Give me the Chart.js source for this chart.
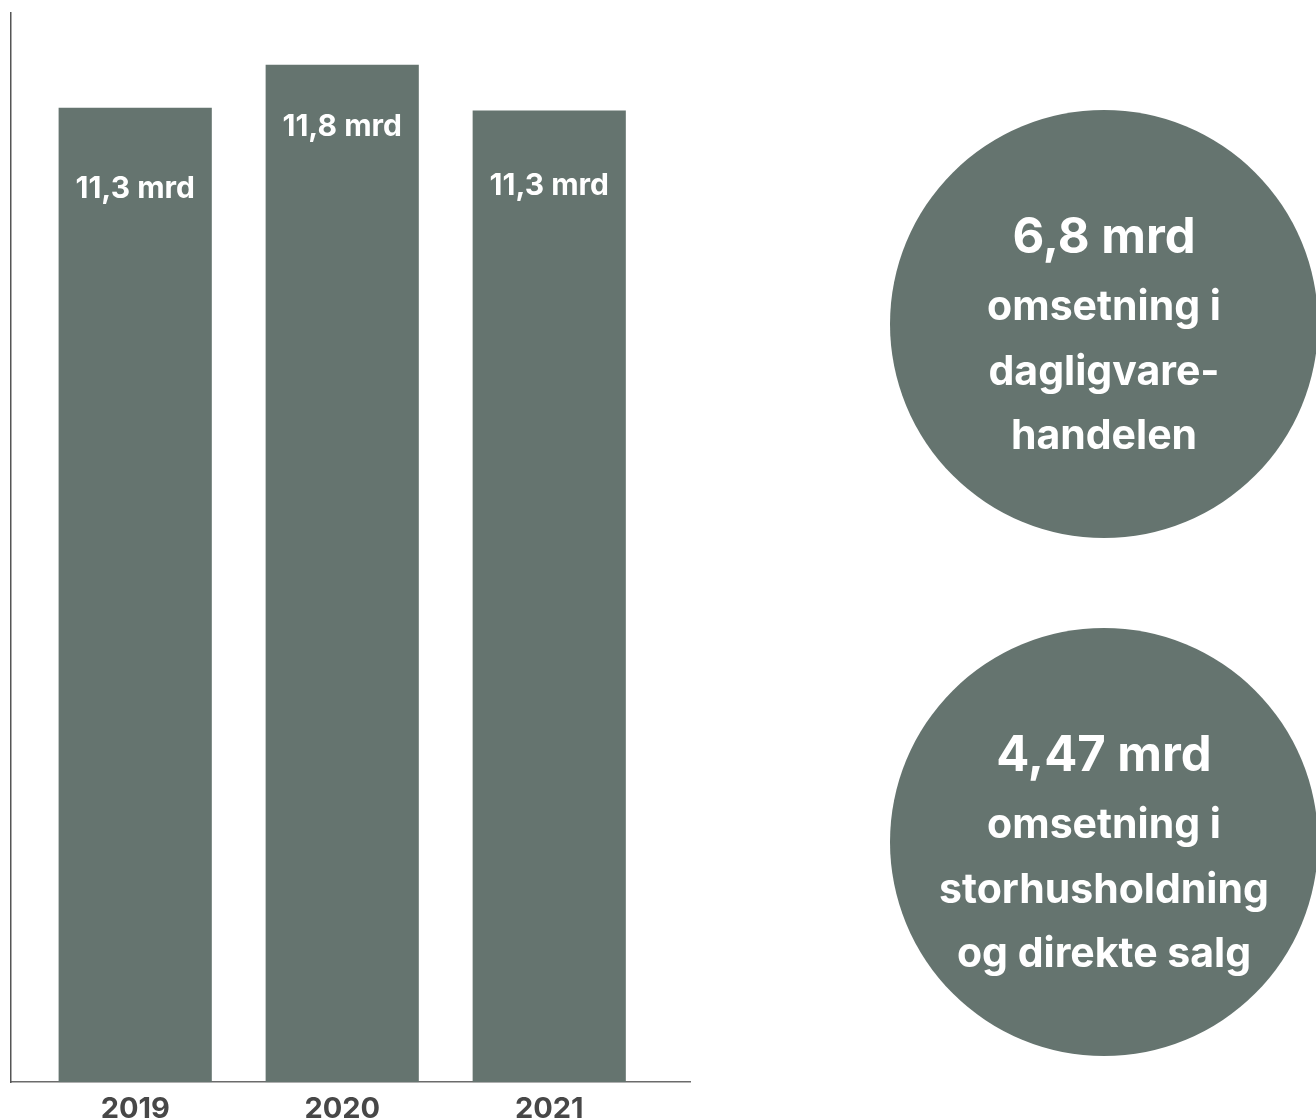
<!DOCTYPE html>
<html>
<head>
<meta charset="utf-8">
<script src="https://cdn.jsdelivr.net/npm/chart.js@4.4.1/dist/chart.umd.min.js"></script>
<style>
  html, body { margin: 0; padding: 0; background: #fff; }
  body { width: 1316px; height: 1119px; position: relative; overflow: hidden; }
  #bars-wrap { position: absolute; left: 0; top: 0; width: 700px; height: 1119px; }
  #circles-wrap { position: absolute; left: 880px; top: 65px; width: 436px; height: 1036px; }
</style>
</head>
<body>
<div id="bars-wrap"><canvas id="bars"></canvas></div>
<div id="circles-wrap"><canvas id="circles"></canvas></div>
<script>
// Omsetning per år (mrd kr)
const years = ['2019', '2020', '2021'];
const revenue = [11.3, 11.8, 11.27];
const revenueLabels = ['11,3 mrd', '11,8 mrd', '11,3 mrd'];

// Fordeling (sirkler)
const segments = ['dagligvare', 'storhusholdning'];
const segmentValues = ['6,8 mrd', '4,47 mrd'];
const segmentTexts = [
    ['omsetning i', 'dagligvare-', 'handelen'],
    ['omsetning i', 'storhusholdning', 'og direkte salg']
];

const GREEN = '#65746f';
const FONT = 'Inter, "Noto Sans", sans-serif';

// label offset from bar top, as in the original layout
const labelOffsets = [81, 62, 76];

const barLabels = {
    id: 'barLabels',
    afterDatasetsDraw(chart) {
        const ctx = chart.ctx;
        const meta = chart.getDatasetMeta(0);
        ctx.save();
        ctx.fillStyle = '#fff';
        ctx.font = '700 30px ' + FONT;
        ctx.textAlign = 'center';
        ctx.textBaseline = 'middle';
        meta.data.forEach((bar, i) => {
            ctx.fillText(revenueLabels[i], bar.x, bar.y + labelOffsets[i]);
        });
        ctx.restore();
    }
};

new Chart(document.getElementById('bars'), {
    type: 'bar',
    data: {
        datasets: [{
            data: revenue.map((v, i) => ({ x: i, y: v })),
            backgroundColor: GREEN,
            barPercentage: 0.74,
            categoryPercentage: 1
        }]
    },
    options: {
        responsive: true,
        maintainAspectRatio: false,
        animation: false,
        events: [],
        layout: { autoPadding: false, padding: { top: 13, left: 11, right: 10, bottom: -18 } },
        plugins: { legend: { display: false }, tooltip: { enabled: false } },
        scales: {
            x: {
                type: 'linear',
                offset: false,
                min: -0.6,
                max: 2.68,
                afterBuildTicks: (scale) => {
                    scale.ticks = years.map((y, i) => ({ value: i }));
                },
                grid: { display: false, drawTicks: false },
                border: { display: true, color: '#6b6b6b', width: 1.5 },
                ticks: {
                    padding: 10,
                    color: '#474747',
                    font: { family: FONT, size: 29, weight: '700' },
                    callback: (value) => years[value]
                }
            },
            y: {
                min: 0,
                max: 12.4,
                grid: { display: false, drawTicks: false },
                border: { display: true, color: '#555', width: 1.5 },
                ticks: { display: false }
            }
        }
    },
    plugins: [barLabels]
});

// text inside the circles
const circleText = {
    id: 'circleText',
    afterDatasetsDraw(chart) {
        const ctx = chart.ctx;
        const meta = chart.getDatasetMeta(0);
        ctx.save();
        ctx.fillStyle = '#fff';
        ctx.textAlign = 'center';
        ctx.textBaseline = 'middle';
        meta.data.forEach((pt, i) => {
            ctx.font = '700 49px ' + FONT;
            ctx.fillText(segmentValues[i], pt.x, pt.y - 86);
            ctx.font = '700 41px ' + FONT;
            segmentTexts[i].forEach((line, j) => {
                ctx.fillText(line, pt.x, pt.y - 16 + j * 64.5);
            });
        });
        ctx.restore();
    }
};

new Chart(document.getElementById('circles'), {
    type: 'scatter',
    data: {
        datasets: [{
            data: segments.map(s => ({ x: 'all', y: s })),
            backgroundColor: GREEN,
            borderWidth: 0,
            pointRadius: 214,
            pointHoverRadius: 214,
            clip: false
        }]
    },
    options: {
        responsive: true,
        maintainAspectRatio: false,
        animation: false,
        events: [],
        layout: { autoPadding: false, padding: { left: 12, right: 0, top: 0, bottom: 0 } },
        plugins: { legend: { display: false }, tooltip: { enabled: false } },
        scales: {
            x: { type: 'category', labels: ['all'], offset: true, display: false },
            y: { type: 'category', labels: segments, offset: true, display: false }
        }
    },
    plugins: [circleText]
});
</script>
</body>
</html>
